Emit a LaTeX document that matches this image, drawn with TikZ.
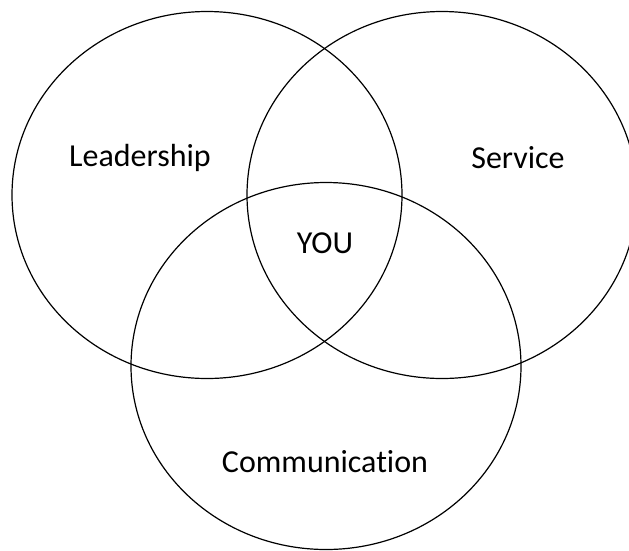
\documentclass[tikz,border=0pt]{standalone}
\usepackage{fontspec}
\setmainfont[Ligatures=NoCommon]{Carlito}
\usetikzlibrary{shapes.geometric}
\begin{document}
\begin{tikzpicture}[x=1pt,y=-1pt,
  venn/.style={draw=black, line width=1.2pt, ellipse, inner sep=0pt,
    minimum width=390pt, minimum height=367pt},
  lbl/.style={font=\fontsize{32}{38}\selectfont, inner sep=0pt}]
\useasboundingbox (0,0) rectangle (629,550);
\clip (0,0) rectangle (629,550);
\node[venn] (lead) at (207,195) {};
\node[venn] (serv) at (442,195) {};
\node[venn] (comm) at (326,366) {};
\node[lbl] (tlead) at (140,158) {Leadership};
\node[lbl] (tserv) at (518,158) {Service};
\node[lbl] (tyou) at (325,243) {YOU};
\node[lbl] (tcomm) at (325,462) {Communication};
\end{tikzpicture}
\end{document}
